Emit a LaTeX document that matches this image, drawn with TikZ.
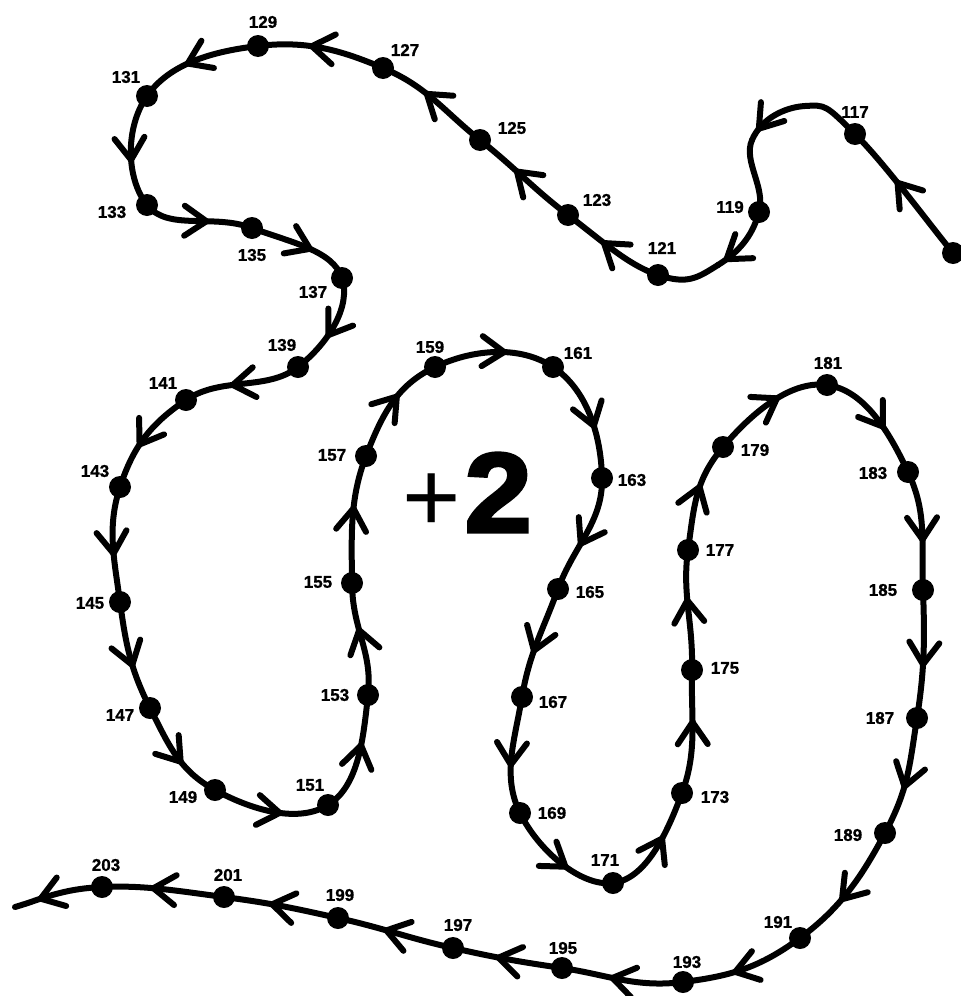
\documentclass[tikz,border=0pt]{standalone}
\usepackage{fontspec}
\newfontfamily\numfont[FakeBold=1]{Liberation Sans}
\newfontfamily\plusfont{Liberation Sans}
\newfontfamily\bigfont[FakeBold=3,FakeStretch=1.07]{Liberation Sans}
\usetikzlibrary{calc}
\usetikzlibrary{decorations.markings}

\tikzset{
  trail/.style={line width=6pt, line cap=round},
  barb/.style={line width=6pt, line cap=round, line join=round},
  dot/.style={circle, fill, inner sep=0pt, minimum size=22pt},
  num/.style={font=\numfont\bfseries\fontsize{17}{17}\selectfont, inner sep=0pt},
  chevron/.code={\ifdim#1pt>0pt\tikzset{postaction={decorate},
    decoration={markings, mark=at position #1 with {\draw[barb] (-22pt,15pt) -- (0pt,0pt) -- (-22pt,-15pt);}}}\fi},
}

\begin{document}
\begin{tikzpicture}[x=1pt, y=-1pt]
  \useasboundingbox (0,0) rectangle (961,996);
  % points of the trail, in the order it is walked
  \coordinate (c0) at (990,300);
  \coordinate (c1) at (953,253);
  \coordinate (c2) at (855,134);
  \coordinate (c3) at (805,106);
  \coordinate (c4) at (752,140);
  \coordinate (c5) at (759,212);
  \coordinate (c6) at (718,265);
  \coordinate (c7) at (658,275);
  \coordinate (c8) at (568,215);
  \coordinate (c9) at (480,140);
  \coordinate (c10) at (383,68);
  \coordinate (c11) at (258,46);
  \coordinate (c12) at (147,96);
  \coordinate (c13) at (147,205);
  \coordinate (c14) at (252,228);
  \coordinate (c15) at (342,278);
  \coordinate (c16) at (298,367);
  \coordinate (c17) at (186,400);
  \coordinate (c18) at (120,487);
  \coordinate (c19) at (120,602);
  \coordinate (c20) at (150,708);
  \coordinate (c21) at (215,790);
  \coordinate (c22) at (328,805);
  \coordinate (c23) at (368,695);
  \coordinate (c24) at (352,583);
  \coordinate (c25) at (366,456);
  \coordinate (c26) at (435,367);
  \coordinate (c27) at (553,367);
  \coordinate (c28) at (602,478);
  \coordinate (c29) at (558,589);
  \coordinate (c30) at (522,697);
  \coordinate (c31) at (520,813);
  \coordinate (c32) at (613,883);
  \coordinate (c33) at (682,793);
  \coordinate (c34) at (692,670);
  \coordinate (c35) at (688,550);
  \coordinate (c36) at (723,447);
  \coordinate (c37) at (827,385);
  \coordinate (c38) at (908,472);
  \coordinate (c39) at (923,590);
  \coordinate (c40) at (917,718);
  \coordinate (c41) at (885,833);
  \coordinate (c42) at (800,938);
  \coordinate (c43) at (683,982);
  \coordinate (c44) at (562,968);
  \coordinate (c45) at (453,948);
  \coordinate (c46) at (338,918);
  \coordinate (c47) at (224,897);
  \coordinate (c48) at (102,887);
  \coordinate (c49) at (15,907);
  \coordinate (c50) at (-30,925);

  % the trail, piece by piece
  \foreach \i in {1,...,48} {
    \pgfmathtruncatemacro\h{\i-1}
    \pgfmathtruncatemacro\j{\i+1}
    \pgfmathtruncatemacro\k{\i+2}
    \pgfmathsetmacro\at{(\i==2 || \i==4 || \i==6) ? 0 : (\i==3 ? .8 : (\i==5 ? .85 : (\i==48 ? .7 : .58)))}
    \draw[trail, chevron=\at] (c\i) .. controls ($(c\i)+0.2*(c\j)-0.2*(c\h)$)
      and ($(c\j)-0.2*(c\k)+0.2*(c\i)$) .. (c\j);
  }

  \node[dot] (start) at (c1) {};
  \foreach \p/\n/\x/\y in {2/117/855/112, 5/119/730/207, 7/121/662/248, 8/123/597/200,
      9/125/512/128, 10/127/405/50, 11/129/263/22, 12/131/126/77, 13/133/112/212,
      14/135/252/255, 15/137/313/292, 16/139/282/345, 17/141/163/383, 18/143/95/471,
      19/145/90/603, 20/147/120/715, 21/149/183/797, 22/151/310/785, 23/153/335/695,
      24/155/318/582, 25/157/332/455, 26/159/430/347, 27/161/578/353, 28/163/632/480,
      29/165/590/592, 30/167/553/702, 31/169/552/813, 32/171/605/860, 33/173/715/797,
      34/175/725/668, 35/177/720/550, 36/179/755/450, 37/181/828/363, 38/183/873/473,
      39/185/883/590, 40/187/880/718, 41/189/848/835, 42/191/778/922, 43/193/687/962,
      44/195/563/948, 45/197/458/925, 46/199/340/895, 47/201/228/875, 48/203/106/865} {
    \node[dot] (n\n) at (c\p) {};
    \node[num] (t\n) at (\x,\y) {\n};
  }

  \node[anchor=base west, inner sep=0pt] (step) at (402,532)
    {\raisebox{1pt}{\plusfont\fontsize{100}{100}\selectfont+}\kern4pt{\bigfont\bfseries\fontsize{113}{113}\selectfont 2}};
\end{tikzpicture}
\end{document}
